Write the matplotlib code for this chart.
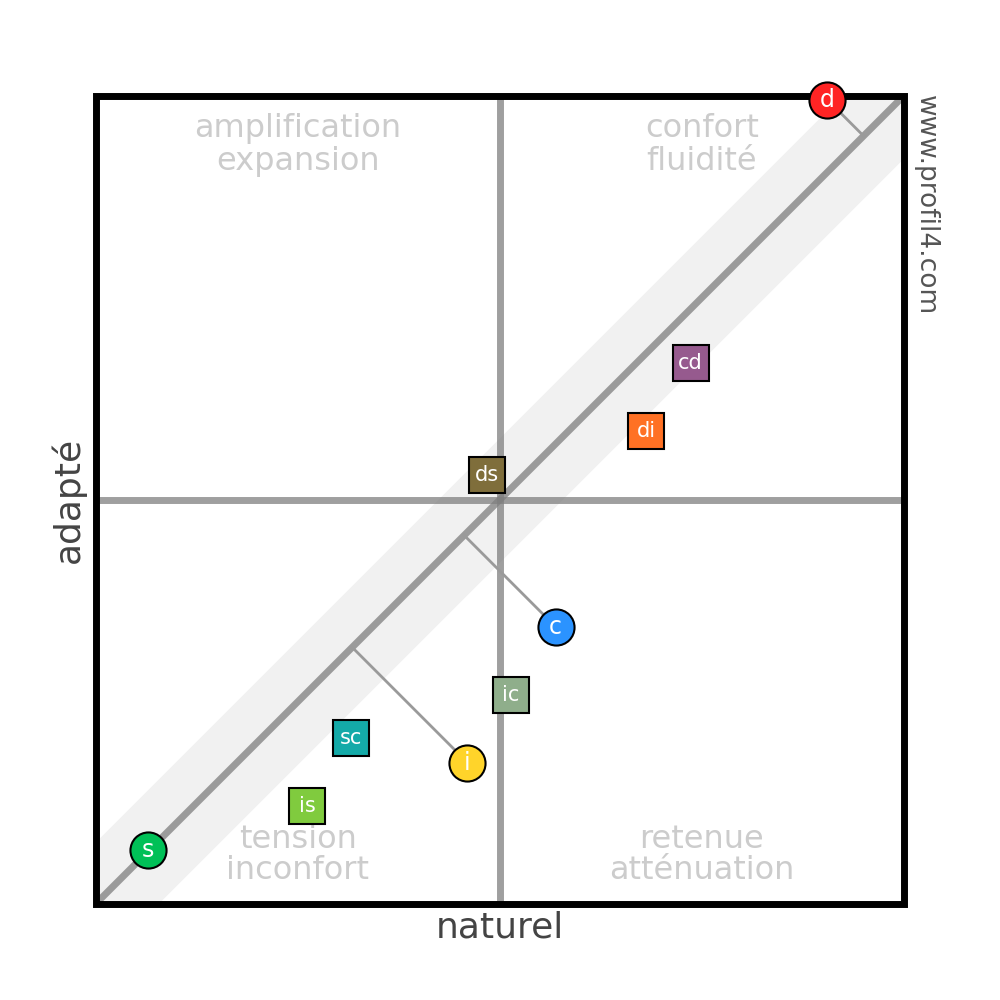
import matplotlib
matplotlib.use("Agg")
import matplotlib.pyplot as plt
import matplotlib.patches as mpatches
import numpy as np

# round markers (profiles) with a connector to the diagonal
circle_labels = ["d", "c", "i", "s"]
circle_x = [90.5, 56.9, 46.0, 6.5]
circle_y = [99.5, 34.3, 17.5, 6.7]
circle_colors = ["#ff2424", "#2b93ff", "#ffd42a", "#00c057"]

# square markers (combinations)
square_labels = ["cd", "di", "ds", "ic", "sc", "is"]
square_x = [73.6, 68.1, 48.4, 51.4, 31.6, 26.2]
square_y = [66.9, 58.5, 53.1, 25.9, 20.5, 12.1]
square_colors = ["#965a8e", "#ff7124", "#7f6e3b", "#8fae8b", "#14aaa8", "#80cb3e"]

quadrant_text = [
    (25, ["amplification", "expansion"], "top"),
    (75, ["confort", "fluidité"], "top"),
    (25, ["tension", "inconfort"], "bottom"),
    (75, ["retenue", "atténuation"], "bottom"),
]

BAND = 7.7
GREY = "#7f7f7f"

fig = plt.figure(figsize=(10, 10), dpi=100)
ax = fig.add_axes([0.0955, 0.096, 0.8085, 0.8085])
ax.set_xlim(0, 100)
ax.set_ylim(0, 100)
ax.set_xticks([])
ax.set_yticks([])
for sp in ax.spines.values():
    sp.set_visible(False)

# frame drawn as one rectangle so the corners join cleanly
ax.add_patch(mpatches.Rectangle((0, 0), 1, 1, transform=ax.transAxes,
                                fill=False, ec="black", lw=5,
                                joinstyle="miter", zorder=4, clip_on=False))

# band around the diagonal
xs = np.array([0, 100])
ax.fill_between(xs, xs - BAND, xs + BAND, color="#f1f1f1", lw=0, zorder=0)

# quadrant lines + diagonal
ax.axvline(50, color=GREY, alpha=0.75, lw=5, zorder=1)
ax.axhline(50, color=GREY, alpha=0.75, lw=5, zorder=1)
ax.plot(xs, xs, color=GREY, alpha=0.75, lw=5, zorder=1, solid_capstyle="butt")

# quadrant captions
for qx, lines, pos in quadrant_text:
    ys = [94.9, 90.8] if pos == "top" else [6.9, 3.1]
    for t, yy in zip(lines, ys):
        ax.text(qx, yy, t, ha="center", va="baseline", fontsize=23,
                color="#cccccc", zorder=2)

# connectors to the diagonal
for x, y in zip(circle_x, circle_y):
    m = (x + y) / 2
    ax.plot([x, m], [y, m], color="#9a9a9a", lw=2, zorder=3, clip_on=False)

for lab, x, y, c in zip(square_labels, square_x, square_y, square_colors):
    ax.plot(x, y, marker="s", ms=26, mfc=c, mec="black", mew=1.5,
            zorder=5, clip_on=False)
    ax.text(x, y, lab, ha="center", va="center", color="white",
            fontsize=15, zorder=6)

for lab, x, y, c in zip(circle_labels, circle_x, circle_y, circle_colors):
    ax.plot(x, y, marker="o", ms=26, mfc=c, mec="black", mew=1.5,
            zorder=5, clip_on=False)
    ax.text(x, y, lab, ha="center", va="center", color="white",
            fontsize=17, zorder=6, clip_on=False)

fig.text(0.5, 0.063, "naturel", ha="center", va="baseline",
         fontsize=26, color="#444444")
fig.text(0.068, 0.5, "adapté", ha="center", va="center", rotation=90,
         fontsize=26, color="#444444")
fig.text(0.926, 0.905, "www.profil4.com", ha="center", va="top",
         rotation=-90, fontsize=19, color="#555555")

fig.savefig("out.png", dpi=100, facecolor="white")
